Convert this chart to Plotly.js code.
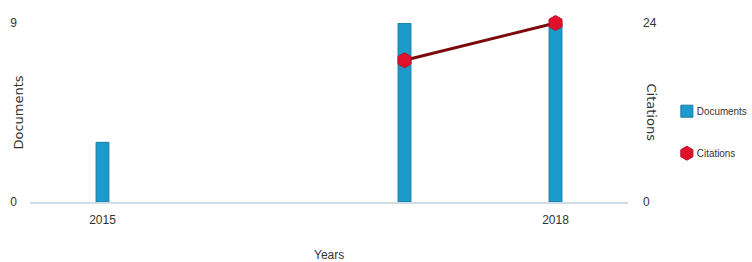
<!DOCTYPE html>
<html>
<head>
<meta charset="utf-8">
<script src="https://cdn.plot.ly/plotly-3.0.1.min.js"></script>
<style>html,body{margin:0;padding:0;background:#fff;}#chart{width:752px;height:262px;}</style>
</head>
<body>
<div id="chart"></div>
<script>
const years = [2015, 2017, 2018];
const documents = [3, 9, 9];
const citationYears = [2017, 2018];
const citations = [19, 24];
const xTickVals = [2015, 2018];
const xTickText = ["2015", "2018"];

const FONT = "Liberation Sans Narrow, Arial Narrow, Liberation Sans, Arial, sans-serif";
const TITLE_FONT = "DejaVu Sans, Liberation Sans, sans-serif";

const traces = [
  {
    type: "bar", x: years, y: documents, name: "Documents",
    width: 0.085,
    marker: {color: "#1b9acb", line: {color: "#157ba3", width: 1}},
    legendgroup: "a", hoverinfo: "x+y"
  },
  {
    type: "scatter", mode: "lines+markers", x: citationYears, y: citations, name: "Citations",
    yaxis: "y2", showlegend: false, cliponaxis: false,
    line: {color: "#7d0a0a", width: 3},
    marker: {symbol: "hexagon", size: 15, color: "#e0112b", line: {color: "#c20d22", width: 1}},
    legendgroup: "b"
  },
  {
    type: "scatter", mode: "markers", x: [null], y: [null], name: "Citations",
    yaxis: "y2",
    marker: {symbol: "hexagon", size: 14, color: "#e0112b", line: {color: "#c20d22", width: 1}},
    legendgroup: "b"
  }
];

const layout = {
  width: 752, height: 262,
  margin: {l: 30, r: 124, t: 23, b: 60, autoexpand: false},
  paper_bgcolor: "#ffffff", plot_bgcolor: "#ffffff",
  font: {family: FONT, size: 12, color: "#333"},
  showlegend: true,
  xaxis: {
    range: [2014.52, 2018.48], tickvals: xTickVals, ticktext: xTickText,
    showgrid: false, zeroline: false, showline: true, linecolor: "#cfdde6", linewidth: 2,
    ticks: "", ticklabelstandoff: 6, tickfont: {size: 12, color: "#333"}, automargin: false
  },
  yaxis: {
    range: [0, 9], tickvals: [0, 9], showgrid: false, zeroline: false, showline: false,
    ticks: "", ticklabelstandoff: 12, tickfont: {size: 12, color: "#333"}, automargin: false
  },
  yaxis2: {
    range: [0, 24], tickvals: [0, 24], overlaying: "y", side: "right",
    showgrid: false, zeroline: false, showline: false,
    ticks: "", ticklabelstandoff: 14, tickfont: {size: 12, color: "#333"}, automargin: false
  },
  legend: {
    x: 1.065, xanchor: "left", xref: "paper", y: 0.39, yanchor: "middle",
    traceorder: "grouped", tracegroupgap: 23,
    font: {size: 10.5, color: "#333"}, itemwidth: 30
  },
  annotations: [
    {text: "Documents", xref: "paper", yref: "paper", x: 0, xanchor: "center", xshift: -12,
     y: 0.5, yanchor: "middle", textangle: -90, showarrow: false,
     font: {family: TITLE_FONT, size: 13, color: "#333"}},
    {text: "Citations", xref: "paper", yref: "paper", x: 1, xanchor: "center", xshift: 23,
     y: 0.5, yanchor: "middle", textangle: 90, showarrow: false,
     font: {family: TITLE_FONT, size: 13, color: "#333"}},
    {text: "Years", xref: "paper", yref: "paper", x: 0.5, xanchor: "center",
     y: 0, yanchor: "top", yshift: -44, showarrow: false, font: {size: 12, color: "#333"}}
  ]
};

Plotly.newPlot("chart", traces, layout, {displayModeBar: false, staticPlot: true}).then(function (gd) {
  // pull legend labels closer to the symbols and condense slightly (reference uses a narrow face)
  gd.querySelectorAll(".legend .legendtext").forEach(function (t) {
    const w = t.getComputedTextLength();
    t.setAttribute("x", 30);
    t.setAttribute("textLength", (w * 0.94).toFixed(1));
    t.setAttribute("lengthAdjust", "spacingAndGlyphs");
  });
});
</script>
</body>
</html>
